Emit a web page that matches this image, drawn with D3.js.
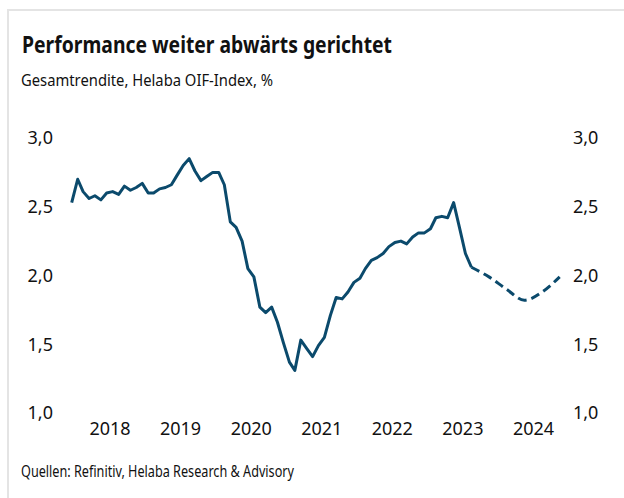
<!DOCTYPE html>
<html>
<head>
<meta charset="utf-8">
<script src="https://cdn.jsdelivr.net/npm/d3@7"></script>
<style>
  html, body { margin: 0; padding: 0; background: #fff; }
  text { font-family: "Noto Sans", sans-serif; fill: #111; }
</style>
</head>
<body>
<svg id="vis" width="624" height="498"></svg>
<script>
// Monatswerte ab Jan 2018 (Ist) und Prognose (quartalsweise)
var actualStart = [2018, 0];
var actualValues = [
    2.53, 2.70, 2.61, 2.56, 2.58, 2.55, 2.60, 2.61, 2.59, 2.65, 2.62, 2.64,
    2.67, 2.60, 2.60, 2.63, 2.64, 2.66, 2.73, 2.80, 2.85, 2.76, 2.69, 2.72,
    2.75, 2.75, 2.66, 2.39, 2.35, 2.25, 2.05, 1.99, 1.77, 1.73, 1.77, 1.66,
    1.51, 1.37, 1.31, 1.53, 1.47, 1.41, 1.49, 1.55, 1.71, 1.84, 1.83, 1.88,
    1.95, 1.98, 2.05, 2.11, 2.13, 2.16, 2.21, 2.24, 2.25, 2.23, 2.28, 2.31,
    2.31, 2.34, 2.42, 2.43, 2.42, 2.53, 2.35, 2.16, 2.06
];
var forecastMonths = ["2023-09", "2023-12", "2024-03", "2024-06", "2024-09", "2024-12"];
var forecastValues = [2.06, 1.99, 1.90, 1.82, 1.88, 1.99];

var yearLabels = [2018, 2019, 2020, 2021, 2022, 2023, 2024];
var yTicks = [1.0, 1.5, 2.0, 2.5, 3.0];

var lineColor = "#0b4a6c";

var de = d3.formatLocale({decimal: ",", thousands: ".", grouping: [3], currency: ["", " €"]});
var fmt = de.format(".1f");

var actual = actualValues.map(function(v, i) {
    return {date: new Date(actualStart[0], actualStart[1] + i, 1), value: v};
});
var forecast = forecastMonths.map(function(m, i) {
    var p = m.split("-");
    return {date: new Date(+p[0], +p[1] - 1, 1), value: forecastValues[i]};
});

var svg = d3.select("#vis");

// Rahmen (nur oben und links sichtbar)
svg.append("path")
    .attr("d", "M8,498 V10 H624")
    .attr("fill", "none")
    .attr("stroke", "#e4e4e4")
    .attr("stroke-width", 2);

// Titel
svg.append("text")
    .attr("x", 22).attr("y", 53)
    .attr("font-size", 24)
    .attr("font-weight", 700)
    .attr("textLength", 370)
    .attr("lengthAdjust", "spacingAndGlyphs")
    .text("Performance weiter abwärts gerichtet");

svg.append("text")
    .attr("x", 21).attr("y", 86)
    .attr("font-size", 17)
    .attr("textLength", 252)
    .attr("lengthAdjust", "spacingAndGlyphs")
    .text("Gesamtrendite, Helaba OIF-Index, %");

svg.append("text")
    .attr("x", 21).attr("y", 477)
    .attr("font-size", 16)
    .attr("textLength", 273)
    .attr("lengthAdjust", "spacingAndGlyphs")
    .text("Quellen: Refinitiv, Helaba Research & Advisory");

// Skalen
var xScale = d3.scaleTime()
    .domain([new Date(2018, 0, 1), new Date(2024, 11, 1)])
    .range([71.7, 559.7]);

var yScale = d3.scaleLinear()
    .domain([1, 3])
    .range([413, 138]);

// Achsen
var yLeft = svg.append("g")
    .attr("transform", "translate(53,0)")
    .call(d3.axisLeft(yScale).tickValues(yTicks).tickFormat(fmt).tickSize(0).tickPadding(0));

var yRight = svg.append("g")
    .attr("transform", "translate(573,0)")
    .call(d3.axisRight(yScale).tickValues(yTicks).tickFormat(fmt).tickSize(0).tickPadding(0));

var xAxis = svg.append("g")
    .attr("transform", "translate(0,422)")
    .call(d3.axisBottom(xScale)
        .tickValues(yearLabels.map(function(y) { return new Date(y, 6, 16); }))
        .tickFormat(d3.timeFormat("%Y"))
        .tickSize(0).tickPadding(0));

[yLeft, yRight, xAxis].forEach(function(g) {
    g.select(".domain").remove();
    g.selectAll("text")
        .attr("font-size", 18)
        .attr("font-family", "Noto Sans, sans-serif")
        .attr("fill", "#111");
});

// Linien
var line = d3.line()
    .x(d => xScale(d.date))
    .y(d => yScale(d.value));

svg.append("path")
    .datum(actual)
    .attr("fill", "none")
    .attr("stroke", lineColor)
    .attr("stroke-width", 3)
    .attr("stroke-linejoin", "round")
    .attr("d", line);

svg.append("path")
    .datum(forecast)
    .attr("fill", "none")
    .attr("stroke", lineColor)
    .attr("stroke-width", 3)
    .attr("stroke-dasharray", "9,5")
    .attr("d", line.curve(d3.curveMonotoneX));
</script>
</body>
</html>
